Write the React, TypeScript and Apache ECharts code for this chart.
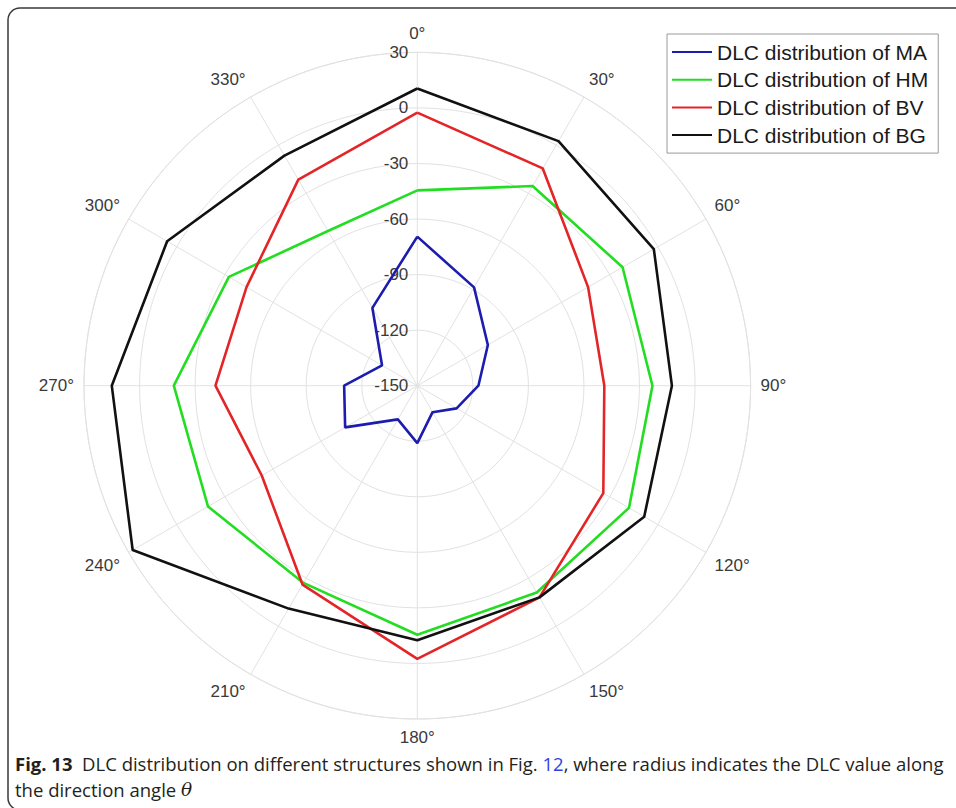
import React, { useEffect, useRef } from "react";
import * as echarts from "echarts";

const angles = [0, 30, 60, 90, 120, 150, 180, 210, 240, 270, 300, 330];
const seriesNames = [
  "DLC distribution of MA",
  "DLC distribution of HM",
  "DLC distribution of BV",
  "DLC distribution of BG",
];
const valuesMA = [-69.5, -88.7, -106, -117, -125.5, -133.5, -119, -129, -105, -110.5, -128, -101.5];
const valuesHM = [-44.5, -25.5, -22, -23, -18, -21, -15.5, -27, -19.5, -18.5, -32.5, -53.5];
const valuesBV = [-2.5, -14.5, -43.5, -49, -34, -18, -2.5, -26, -53, -41, -43.5, -21.5];
const valuesBG = [10.5, 2.5, -2.5, -12.5, -8.5, -18, -12.5, -11, 27.5, 15, 6, -6.5];
const seriesColors = ["#1c1cae", "#22dd22", "#e42528", "#111111"];
const radiusMin = -150;
const radiusMax = 30;
const radiusStep = 30;
const angleStep = 30;

const captionLine1 =
  "{b|Fig. 13}  DLC distribution on different structures shown in Fig. {l|12}, where radius indicates the DLC value along";
const captionLine2 = "the direction angle {i|θ}";

function closedData(values: number[]) {
  const pts = values.map((v, i) => [v, angles[i]]);
  pts.push([values[0], 360]);
  return pts;
}

export default function App() {
  const ref = useRef<HTMLDivElement>(null);
  useEffect(() => {
    if (!ref.current) return;
    const chart = echarts.init(ref.current, null, { renderer: "svg" });
    const allValues = [valuesMA, valuesHM, valuesBV, valuesBG];
    const gridColor = "#e2e2e2";
    const capFont = "Open Sans";
    const capSize = 18.5;
    chart.setOption({
      animation: false,
      backgroundColor: "#ffffff",
      polar: { center: [417.3, 385.7], radius: 333.3 },
      angleAxis: {
        type: "value",
        min: 0,
        max: 360,
        interval: angleStep,
        startAngle: 90,
        clockwise: true,
        axisLine: { show: true, lineStyle: { color: gridColor, width: 1 } },
        axisTick: { show: false },
        splitLine: { show: true, lineStyle: { color: gridColor, width: 1 } },
        axisLabel: {
          margin: 10,
          fontFamily: "Liberation Sans, Arial, sans-serif",
          fontSize: 17,
          color: "#3a3a3a",
          formatter: (v: number) => (v >= 360 ? "" : v + "°"),
        },
      },
      radiusAxis: {
        type: "value",
        min: radiusMin,
        max: radiusMax,
        interval: radiusStep,
        axisLine: { show: false },
        axisTick: { show: false },
        splitLine: { show: true, lineStyle: { color: gridColor, width: 1 } },
        axisLabel: {
          margin: 9,
          fontFamily: "Liberation Sans, Arial, sans-serif",
          fontSize: 17,
          color: "#3a3a3a",
        },
        z: 1,
      },
      legend: {
        orient: "vertical",
        left: 667,
        top: 34,
        icon: "rect",
        itemWidth: 40,
        itemHeight: 2,
        itemGap: 6.7,
        itemTextGap: 6,
        padding: [7.5, 10, 7.5, 5],
        backgroundColor: "#ffffff",
        borderColor: "#9a9a9a",
        borderWidth: 1,
        textStyle: {
          fontFamily: "Liberation Sans, Arial, sans-serif",
          fontSize: 21,
          lineHeight: 21,
          color: "#1a1a1a",
        },
        data: seriesNames,
      },
      series: seriesNames.map((name, i) => ({
        name,
        type: "line",
        coordinateSystem: "polar",
        symbol: "none",
        data: closedData(allValues[i]),
        lineStyle: { color: seriesColors[i], width: 2.6 },
        itemStyle: { color: seriesColors[i] },
        z: 3 + i,
      })),
      graphic: {
        elements: [
          {
            type: "rect",
            shape: { x: 8, y: 8, width: 1000, height: 802, r: 12 },
            style: { fill: "none", stroke: "#3a3a3a", lineWidth: 1.5 },
            z: 0,
          },
          {
            type: "text",
            x: 15,
            y: 763,
            style: {
              text: captionLine1,
              fontFamily: capFont,
              fontSize: capSize,
              fill: "#231f20",
              verticalAlign: "middle",
              rich: {
                b: { fontFamily: capFont, fontSize: capSize, fontWeight: "bold", fill: "#231f20" },
                l: { fontFamily: capFont, fontSize: capSize, fill: "#2f45e0" },
              },
            },
          },
          {
            type: "text",
            x: 15,
            y: 789,
            style: {
              text: captionLine2,
              fontFamily: capFont,
              fontSize: capSize,
              fill: "#231f20",
              verticalAlign: "middle",
              rich: {
                i: {
                  fontFamily: "DejaVu Serif, Liberation Serif, serif",
                  fontStyle: "italic",
                  fontSize: capSize,
                  fill: "#231f20",
                },
              },
            },
          },
        ],
      },
    });
    return () => chart.dispose();
  }, []);
  return (
    <div
      ref={ref}
      style={{ position: "absolute", left: 0, top: 0, width: 956, height: 808 }}
    />
  );
}
